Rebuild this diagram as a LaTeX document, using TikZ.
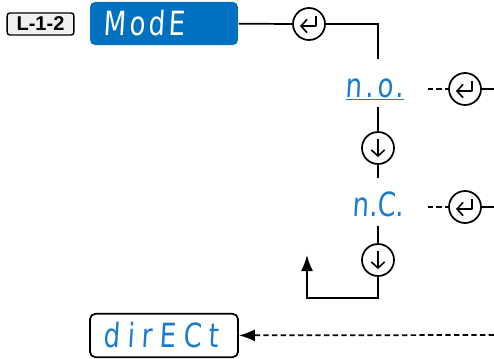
\documentclass[tikz,border=0pt]{standalone}
\usepackage{fontspec}
\setsansfont{Liberation Sans}
\newfontfamily\segfont[FakeStretch=0.78,FakeSlant=0.06,LetterSpace=10]{DejaVu Sans}
\usetikzlibrary{positioning, arrows.meta}
\definecolor{panelblue}{RGB}{0,112,192}
\definecolor{segblue}{RGB}{28,124,204}

\begin{document}
\begin{tikzpicture}[
    x=0.75pt, y=-0.75pt, line width=1.3pt, >={Latex[length=12pt,width=9pt]},
    tag/.style={draw, line width=1pt, rounded corners=2pt, fill=gray!12, inner sep=0pt,
        minimum width=50pt, minimum height=16.5pt,
        font=\sffamily\bfseries\fontsize{15}{15}\selectfont},
    panel/.style={rounded corners=4pt, minimum width=111pt, minimum height=32.5pt,
        inner xsep=10pt, text width=91pt, align=left,
        font=\segfont\fontsize{25}{25}\selectfont},
    menu/.style={text=segblue, inner xsep=0pt, inner ysep=6pt,
        text height=22pt, text depth=1pt,
        font=\segfont\fontsize{25}{25}\selectfont},
    key/.style={draw, circle, minimum size=24pt, inner sep=0pt},
    glyph/.style={line width=1.2pt, line join=round, -{Straight Barb[length=4.5pt,width=10pt]}},
    enterkey/.style={key, path picture={
        \draw[glyph] ([shift={(7,-8)}]path picture bounding box.center)
            -- ++(0,10) -- ++(-16,0);}},
    downkey/.style={key, path picture={
        \draw[glyph] ([shift={(0,-9)}]path picture bounding box.center)
            -- ++(0,18);}},
    link/.style={dash pattern=on 4pt off 2.5pt}
]
    \useasboundingbox (0,0) rectangle (494,358);

    % menu entry
    \node[tag]                                  (level)  at (40.5,24)  {L-1-2};
    \node[panel, fill=panelblue, text=white]    (mode)   at (164,23.5) {ModE};
    \node[enterkey]                             (ent1)   at (309,24)   {};
    \coordinate                                 (turn)   at (378,24);

    % options
    \node[menu, anchor=base east]               (no)     at (405,97)   {\underline{n.o.}};
    \node[enterkey]                             (ent2)   at (465,89)   {};
    \coordinate                                 (noout)  at (494,89);
    \node[downkey]                              (dn1)    at (378,148)  {};
    \node[menu, anchor=base east]               (nc)     at (405,216)  {\addfontfeature{LetterSpace=0}n.C.};
    \node[enterkey]                             (ent3)   at (465,207)  {};
    \coordinate                                 (ncout)  at (494,207);
    \node[downkey]                              (dn2)    at (378,260)  {};
    \coordinate                                 (back)   at (378,298);
    \coordinate                                 (backup) at (307,255);

    % next parameter
    \node[panel, draw, text=segblue]            (direct) at (164,335.5) {\addfontfeature{LetterSpace=22}dirECt};
    \coordinate                                 (dirin)  at (494,335);

    \draw (mode) -- (ent1) -- (turn) -- (turn |- no.north);
    \draw (no.south -| dn1) -- (dn1) -- (nc.north -| dn1);
    \draw[->] (nc.south -| dn2) -- (dn2) -- (back) -| (backup);

    \draw[link, shorten <=17pt] (ent2 -| no.east) -- (ent2);
    \draw (ent2) -- (noout);
    \draw[link, shorten <=17pt] (ent3 -| nc.east) -- (ent3);
    \draw (ent3) -- (ncout);

    \draw[link, ->] (dirin) -- (direct);
\end{tikzpicture}
\end{document}
